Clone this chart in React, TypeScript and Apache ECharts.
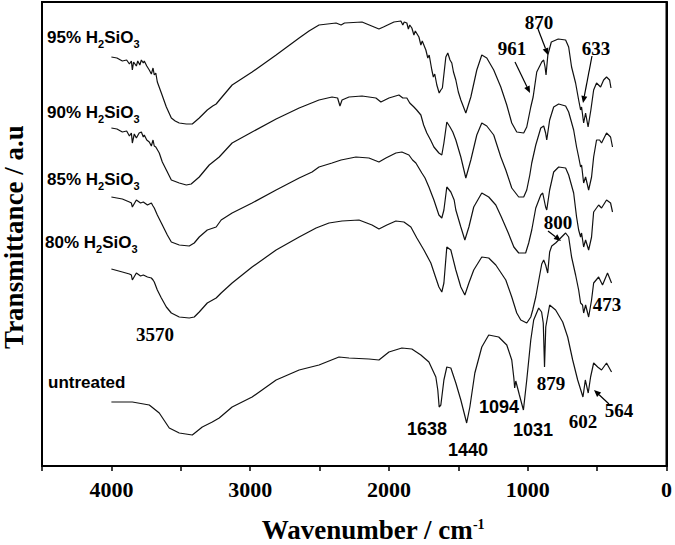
import React, { useEffect, useRef } from "react";
import * as echarts from "echarts";

// Wavenumber (cm-1) / transmittance (a.u., offset) pairs
const s95: [number, number][] = [
  [4000, 409], [3960, 408], [3921, 405], [3890, 406], [3870, 402], [3856, 405], [3849, 396], [3840, 404],
  [3820, 400], [3810, 405], [3795, 401], [3784, 406], [3770, 403], [3763, 405], [3745, 400], [3727, 396],
  [3712, 392], [3700, 398], [3691, 391], [3680, 393], [3669, 384], [3640, 373], [3604, 359], [3568, 348],
  [3540, 345], [3511, 343], [3460, 342], [3417, 342], [3367, 348], [3309, 356], [3270, 360], [3245, 362],
  [3209, 368], [3130, 381], [2986, 394], [2813, 411], [2647, 428], [2576, 435], [2504, 441], [2381, 443],
  [2345, 441], [2320, 443], [2194, 444], [2072, 437], [2040, 439], [1964, 444], [1914, 445], [1900, 441],
  [1890, 444], [1871, 443], [1860, 437], [1850, 441], [1835, 438], [1820, 431], [1810, 435], [1784, 429],
  [1770, 421], [1760, 425], [1734, 416], [1720, 408], [1710, 411], [1691, 396], [1680, 389], [1670, 392],
  [1655, 381], [1638, 373], [1626, 376], [1615, 378], [1590, 409], [1576, 413], [1560, 406], [1547, 403],
  [1535, 394], [1518, 386], [1500, 374], [1482, 366], [1446, 353], [1410, 369], [1367, 396], [1331, 411],
  [1295, 408], [1245, 396], [1194, 379], [1151, 361], [1115, 343], [1079, 334], [1029, 333], [1007, 339],
  [978, 359], [961, 369], [935, 394], [899, 404], [885, 406], [875, 399], [868, 391], [855, 411],
  [830, 424], [780, 427], [727, 426], [705, 419], [684, 399], [655, 383], [633, 366], [619, 356],
  [612, 359], [597, 343], [583, 353], [565, 339], [545, 356], [525, 376], [504, 383], [475, 379],
  [453, 386], [432, 389], [410, 386], [400, 378],
];

const s90: [number, number][] = [
  [4000, 338], [3960, 337], [3921, 334], [3890, 335], [3870, 330], [3856, 333], [3849, 323], [3835, 332],
  [3820, 328], [3800, 333], [3784, 334], [3770, 329], [3763, 331], [3745, 326], [3727, 324], [3712, 320],
  [3700, 326], [3691, 320], [3680, 319], [3655, 313], [3633, 304], [3604, 296], [3568, 286], [3511, 283],
  [3460, 281], [3425, 282], [3367, 289], [3295, 301], [3223, 309], [3130, 323], [2986, 334], [2813, 347],
  [2647, 358], [2504, 366], [2410, 369], [2370, 368], [2353, 360], [2338, 366], [2288, 369], [2194, 370],
  [2094, 368], [2058, 364], [2000, 368], [1928, 371], [1900, 368], [1871, 368], [1850, 363], [1820, 359],
  [1800, 356], [1770, 351], [1750, 341], [1727, 333], [1700, 326], [1676, 319], [1640, 313], [1619, 311],
  [1604, 323], [1583, 344], [1560, 339], [1540, 334], [1518, 326], [1482, 309], [1446, 288], [1410, 306],
  [1367, 331], [1331, 343], [1295, 340], [1245, 331], [1194, 309], [1158, 296], [1115, 278], [1065, 269],
  [1029, 269], [1007, 276], [985, 291], [971, 303], [942, 321], [906, 338], [885, 340], [871, 333],
  [863, 326], [842, 346], [813, 359], [777, 362], [727, 360], [705, 354], [669, 336], [648, 319],
  [633, 309], [619, 299], [612, 301], [597, 283], [583, 289], [561, 276], [540, 289], [525, 309],
  [504, 326], [482, 326], [468, 323], [432, 333], [403, 329], [389, 319],
];

const s85: [number, number][] = [
  [4000, 269], [3921, 267], [3870, 264], [3856, 263], [3849, 259], [3820, 266], [3790, 263], [3770, 264],
  [3740, 261], [3712, 263], [3700, 260], [3691, 258], [3669, 251], [3640, 243], [3597, 231], [3568, 224],
  [3511, 221], [3439, 220], [3403, 223], [3367, 229], [3309, 236], [3245, 239], [3209, 246], [3130, 253],
  [2986, 263], [2813, 276], [2647, 288], [2554, 294], [2504, 299], [2410, 303], [2345, 306], [2238, 309],
  [2144, 308], [2072, 304], [2022, 308], [1950, 313], [1907, 314], [1856, 311], [1830, 306], [1806, 303],
  [1763, 293], [1740, 288], [1712, 279], [1690, 271], [1676, 266], [1640, 251], [1619, 248], [1604, 256],
  [1583, 279], [1554, 274], [1530, 266], [1518, 256], [1482, 239], [1453, 226], [1424, 239], [1389, 259],
  [1331, 273], [1281, 269], [1230, 261], [1190, 249], [1140, 233], [1100, 219], [1065, 213], [1015, 213],
  [993, 223], [971, 236], [942, 258], [906, 271], [892, 273], [871, 259], [863, 256], [842, 276],
  [813, 294], [777, 299], [727, 298], [705, 291], [669, 273], [648, 249], [633, 236], [619, 229],
  [612, 233], [597, 219], [583, 226], [561, 216], [540, 229], [525, 254], [489, 261], [468, 258],
  [432, 266], [403, 263], [389, 254],
];

const s80: [number, number][] = [
  [4000, 197], [3921, 194], [3870, 192], [3856, 191], [3849, 186], [3820, 193], [3790, 190], [3770, 191],
  [3740, 189], [3712, 188], [3700, 186], [3691, 184], [3669, 176], [3640, 168], [3604, 159], [3568, 153],
  [3511, 149], [3439, 148], [3403, 149], [3367, 154], [3309, 163], [3245, 168], [3209, 173], [3130, 183],
  [2986, 199], [2813, 216], [2647, 229], [2525, 238], [2432, 243], [2338, 245], [2216, 246], [2122, 241],
  [2072, 237], [2015, 241], [1950, 245], [1892, 244], [1842, 239], [1799, 228], [1748, 216], [1698, 203],
  [1662, 188], [1640, 179], [1619, 174], [1604, 183], [1583, 219], [1554, 216], [1518, 196], [1482, 179],
  [1453, 171], [1424, 183], [1389, 196], [1331, 209], [1281, 208], [1230, 201], [1158, 186], [1115, 169],
  [1079, 153], [1050, 146], [1007, 143], [978, 149], [964, 156], [942, 169], [920, 186], [899, 202],
  [885, 206], [871, 201], [856, 193], [842, 214], [827, 220], [799, 223], [763, 228], [727, 233],
  [705, 229], [684, 209], [655, 191], [633, 176], [619, 163], [605, 161], [597, 153], [583, 161],
  [561, 149], [540, 166], [525, 183], [489, 189], [461, 181], [425, 193], [396, 183],
];

const sUntreated: [number, number][] = [
  [4000, 64], [3849, 64], [3727, 61], [3655, 53], [3583, 38], [3511, 33], [3417, 31], [3345, 39],
  [3273, 44], [3223, 48], [3130, 59], [2986, 69], [2813, 86], [2647, 96], [2504, 101], [2360, 109],
  [2288, 108], [2144, 107], [2072, 106], [2000, 114], [1907, 118], [1835, 117], [1770, 111], [1712, 104],
  [1662, 89], [1648, 76], [1638, 59], [1626, 61], [1604, 86], [1583, 99], [1554, 98], [1518, 83],
  [1482, 66], [1440, 43], [1417, 59], [1381, 93], [1331, 119], [1281, 131], [1209, 129], [1151, 121],
  [1115, 106], [1100, 88], [1094, 78], [1086, 85], [1060, 71], [1031, 56], [1007, 86], [978, 126],
  [957, 146], [921, 158], [900, 154], [888, 143], [879, 99], [870, 139], [842, 161], [799, 156],
  [748, 144], [712, 129], [676, 106], [640, 86], [602, 69], [585, 86], [564, 73], [547, 89],
  [525, 103], [496, 99], [468, 96], [432, 103], [396, 94],
];

const seriesNames = ["95%", "90%", "85%", "80%", "untreated"];
const xMin = 0;
const xMax = 4500;
const xInterval = 500;
const xLabelStep = 1000;
const xLabelMax = 4000;

const serif = "'Liberation Serif', 'Times New Roman', serif";
const sans = "'Liberation Sans', Arial, sans-serif";

function arrow(x1: number, y1: number, x2: number, y2: number) {
  const dx = x2 - x1;
  const dy = y2 - y1;
  const L = Math.hypot(dx, dy);
  const ux = dx / L;
  const uy = dy / L;
  const hl = 7;
  const hw = 3;
  const bx = x2 - ux * hl;
  const by = y2 - uy * hl;
  return [
    { type: "line", shape: { x1, y1, x2: bx, y2: by }, style: { stroke: "#000", lineWidth: 1.2 }, silent: true },
    {
      type: "polygon",
      shape: { points: [[x2, y2], [bx - uy * hw, by + ux * hw], [bx + uy * hw, by - ux * hw]] },
      style: { fill: "#000" },
      silent: true,
    },
  ];
}

function chemLabel(pct: string, x: number, y: number) {
  return {
    type: "text",
    x,
    y,
    silent: true,
    style: {
      text: `{m|${pct} H}{s|2}{m|SiO}{s|3}`,
      align: "left",
      verticalAlign: "middle",
      fill: "#000",
      rich: {
        m: { fontSize: 17, fontWeight: "bold", fontFamily: sans, lineHeight: 24, fill: "#000" },
        s: { fontSize: 11, fontWeight: "bold", fontFamily: sans, lineHeight: 12, verticalAlign: "bottom", fill: "#000" },
      },
    },
  };
}

function numLabel(text: string, x: number, y: number, font: "serif" | "sans") {
  return {
    type: "text",
    x,
    y,
    silent: true,
    style: {
      text,
      align: "center",
      verticalAlign: "middle",
      fill: "#000",
      fontFamily: font === "serif" ? serif : sans,
      fontWeight: "bold",
      fontSize: font === "serif" ? 19 : 18,
    },
  };
}

export default function App() {
  const ref = useRef<HTMLDivElement>(null);
  useEffect(() => {
    const chart = echarts.init(ref.current!, null, { renderer: "svg" });
    const datasets = [s95, s90, s85, s80, sUntreated];
    const series = datasets.map((d, i) => ({
      type: "line",
      name: seriesNames[i],
      data: d,
      symbol: "none",
      showSymbol: false,
      silent: true,
      lineStyle: { color: "#111", width: 1.2 },
    }));

    const graphic: any[] = [
      chemLabel("95%", 47, 37),
      chemLabel("90%", 47, 112),
      chemLabel("85%", 47, 179),
      chemLabel("80%", 45, 242),
      {
        type: "text",
        x: 48,
        y: 382,
        silent: true,
        style: { text: "untreated", align: "left", verticalAlign: "middle", fill: "#000", fontFamily: sans, fontWeight: "bold", fontSize: 17 },
      },
      numLabel("3570", 155, 334, "serif"),
      numLabel("961", 512, 48, "serif"),
      numLabel("870", 539, 22, "serif"),
      numLabel("633", 596, 48, "serif"),
      numLabel("800", 558, 222, "serif"),
      numLabel("473", 607, 304, "serif"),
      numLabel("879", 551, 383, "serif"),
      numLabel("602", 583, 421, "serif"),
      numLabel("564", 619, 410, "serif"),
      numLabel("1638", 427, 429, "sans"),
      numLabel("1440", 468, 450, "sans"),
      numLabel("1094", 499, 407, "sans"),
      numLabel("1031", 533, 430, "sans"),
      ...arrow(515, 62, 530, 93),
      ...arrow(538, 29, 548, 55),
      ...arrow(592, 56, 583, 103),
      ...arrow(548, 231, 561, 241),
      ...arrow(609, 404, 594, 390),
      {
        type: "text",
        x: 373,
        y: 530,
        silent: true,
        style: {
          text: "{m|Wavenumber / cm}{s|-1}",
          align: "center",
          verticalAlign: "middle",
          fill: "#000",
          rich: {
            m: { fontSize: 27, fontWeight: "bold", fontFamily: serif, lineHeight: 26, fill: "#000" },
            s: { fontSize: 14, fontWeight: "bold", fontFamily: serif, lineHeight: 13, verticalAlign: "top", fill: "#000" },
          },
        },
      },
      {
        type: "text",
        x: 14,
        y: 237,
        rotation: Math.PI / 2,
        silent: true,
        style: {
          text: "Transmittance / a.u",
          align: "center",
          verticalAlign: "middle",
          fill: "#000",
          fontFamily: serif,
          fontWeight: "bold",
          fontSize: 27,
          lineHeight: 26,
        },
      },
    ];

    chart.setOption({
      animation: false,
      backgroundColor: "#fff",
      grid: { left: 42, right: 8, top: 2, bottom: 79, show: true, borderColor: "#000", borderWidth: 2, backgroundColor: "transparent" },
      xAxis: {
        type: "value",
        min: xMin,
        max: xMax,
        interval: xInterval,
        inverse: true,
        axisLine: { show: true, lineStyle: { color: "#000", width: 2 } },
        axisTick: { show: true, inside: false, length: 5, lineStyle: { color: "#000", width: 1.5 } },
        axisLabel: {
          formatter: (v: number) => (v % xLabelStep === 0 && v <= xLabelMax ? String(v) : ""),
          margin: 12,
          fontFamily: serif,
          fontWeight: "bold",
          fontSize: 22,
          color: "#000",
        },
        splitLine: { show: false },
      },
      yAxis: {
        type: "value",
        min: 0,
        max: 464,
        axisLine: { show: true, lineStyle: { color: "#000", width: 2 } },
        axisTick: { show: false },
        axisLabel: { show: false },
        splitLine: { show: false },
      },
      series,
      graphic,
    });
    return () => chart.dispose();
  }, []);
  return <div ref={ref} style={{ position: "fixed", left: 0, top: 0, width: 675, height: 545, background: "#fff" }} />;
}
